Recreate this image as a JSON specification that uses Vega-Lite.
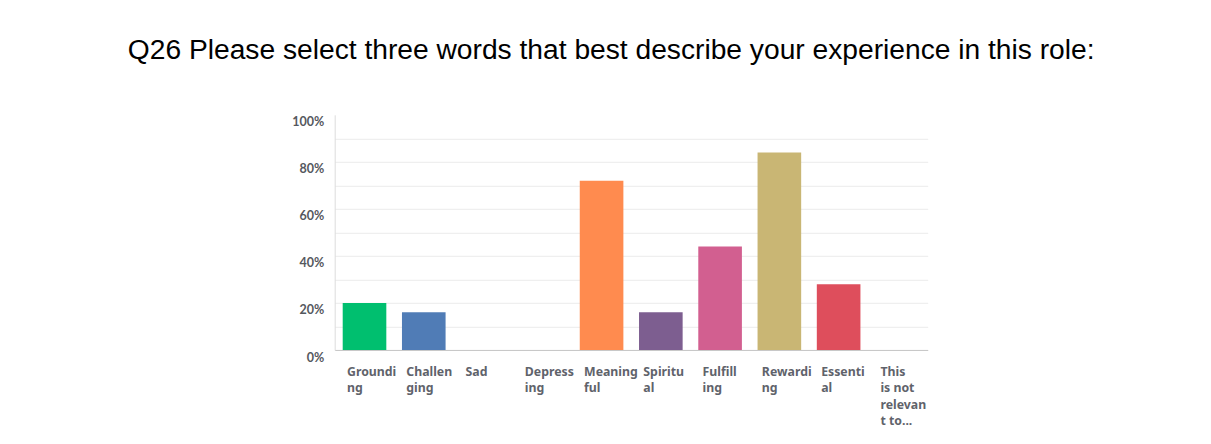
{
  "$schema": "https://vega.github.io/schema/vega-lite/v6.json",
  "autosize": {"type": "none"},
  "width": 593,
  "height": 235.2,
  "padding": {"left": 334.7, "top": 114.8, "right": 283.3, "bottom": 94},
  "background": "white",
  "title": {
    "text": "Q26 Please select three words that best describe your experience in this role:",
    "font": "Liberation Sans",
    "fontSize": 28.2,
    "fontWeight": "normal",
    "color": "#000000",
    "anchor": "middle",
    "baseline": "alphabetic",
    "offset": 27.5,
    "dx": -20
  },
  "data": {
    "values": [
      {"word": "Grounding", "share": 0.20},
      {"word": "Challenging", "share": 0.16},
      {"word": "Sad", "share": 0.0},
      {"word": "Depressing", "share": 0.0},
      {"word": "Meaningful", "share": 0.72},
      {"word": "Spiritual", "share": 0.16},
      {"word": "Fulfilling", "share": 0.44},
      {"word": "Rewarding", "share": 0.84},
      {"word": "Essential", "share": 0.28},
      {"word": "This is not relevant to...", "share": 0.0}
    ]
  },
  "mark": {"type": "bar"},
  "encoding": {
    "x": {
      "field": "word",
      "type": "nominal",
      "sort": null,
      "scale": {"paddingInner": 0.264, "paddingOuter": 0.135},
      "axis": {
        "title": null,
        "labelAngle": 0,
        "labelAlign": "left",
        "labelBaseline": "top",
        "labelOffset": -17.5,
        "labelPadding": 15,
        "labelFont": "Noto Sans",
        "labelFontSize": 12.3,
        "labelFontWeight": "bold",
        "labelColor": "#5f636b",
        "labelLineHeight": 16.5,
        "labelLimit": 0,
        "ticks": false,
        "domainColor": "#c8c8c8",
        "domainWidth": 1,
        "labelExpr": "datum.label == 'This is not relevant to...' ? ['This', 'is not', 'relevan', 't to...'] : (length(datum.label) > 7 ? [substring(datum.label, 0, 7), substring(datum.label, 7)] : datum.label)"
      }
    },
    "y": {
      "field": "share",
      "type": "quantitative",
      "scale": {"domain": [0, 1], "nice": false},
      "axis": {
        "title": null,
        "values": [0, 0.1, 0.2, 0.3, 0.4, 0.5, 0.6, 0.7, 0.8, 0.9, 1],
        "labelExpr": "round(datum.value * 10) % 2 == 0 ? format(datum.value, '.0%') : ''",
        "labelFont": "Lato",
        "labelFontSize": 12.5,
        "labelFontWeight": "bold",
        "labelColor": "#55585e",
        "labelPadding": 11,
        "labelOffset": 7,
        "ticks": false,
        "domainColor": "#dcdcdc",
        "grid": true,
        "gridColor": "#ececec",
        "gridOpacity": {"condition": {"test": "datum.value >= 1", "value": 0}, "value": 1}
      }
    },
    "color": {
      "field": "word",
      "type": "nominal",
      "sort": null,
      "legend": null,
      "scale": {
        "domain": ["Grounding", "Challenging", "Sad", "Depressing", "Meaningful", "Spiritual", "Fulfilling", "Rewarding", "Essential", "This is not relevant to..."],
        "range": ["#00bf6f", "#507cb6", "#6bc8cd", "#f9be00", "#ff8b4f", "#7d5e90", "#d25f90", "#c9b674", "#de4e5c", "#999999"]
      }
    }
  },
  "config": {
    "view": {"stroke": null}
  }
}
